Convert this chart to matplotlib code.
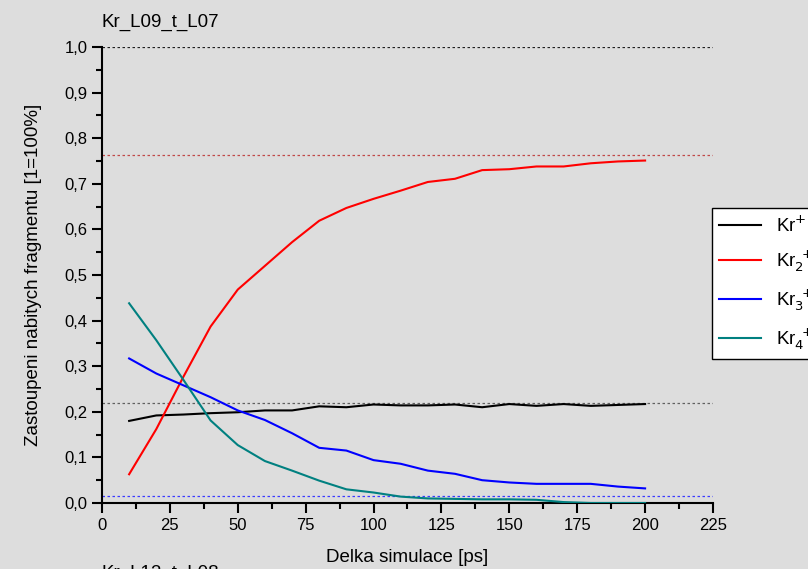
import matplotlib
matplotlib.use("Agg")
import matplotlib.pyplot as plt
from matplotlib.ticker import MultipleLocator, FuncFormatter

plt.rcParams['font.family'] = ['Liberation Sans', 'DejaVu Sans']

# simulation time [ps]
time_ps = [10, 20, 30, 40, 50, 60, 70, 80, 90, 100,
           110, 120, 130, 140, 150, 160, 170, 180, 190, 200]

kr1 = [0.180, 0.192, 0.194, 0.197, 0.199, 0.203, 0.203, 0.212, 0.210, 0.216,
       0.214, 0.214, 0.216, 0.210, 0.217, 0.213, 0.217, 0.213, 0.215, 0.217]
kr2 = [0.063, 0.162, 0.277, 0.387, 0.468, 0.520, 0.572, 0.619, 0.647, 0.667,
       0.685, 0.704, 0.711, 0.730, 0.732, 0.738, 0.738, 0.745, 0.749, 0.751]
kr3 = [0.317, 0.284, 0.258, 0.232, 0.203, 0.182, 0.153, 0.121, 0.115, 0.094,
       0.086, 0.071, 0.064, 0.050, 0.045, 0.042, 0.042, 0.042, 0.036, 0.032]
kr4 = [0.438, 0.357, 0.270, 0.181, 0.127, 0.092, 0.071, 0.049, 0.030, 0.023,
       0.014, 0.010, 0.009, 0.008, 0.008, 0.007, 0.002, 0.000, 0.000, 0.000]

series_labels = ['Kr$^{+}$', 'Kr$_{2}^{\\ +}$', 'Kr$_{3}^{\\ +}$', 'Kr$_{4}^{\\ +}$']
series_colors = ['black', '#ff0000', '#0000ff', '#008080']

# reference levels (dotted)
ref_levels = [1.0, 0.763, 0.219, 0.015]
ref_colors = ['#202020', '#c04848', '#606060', '#3a3aff']

bg = '#dddddd'
fig = plt.figure(figsize=(8.08, 5.69), dpi=100, facecolor=bg)
ax = fig.add_axes([0.1262, 0.116, 0.7562, 0.8014], facecolor=bg)

for lvl, c in zip(ref_levels, ref_colors):
    ax.axhline(lvl, color=c, linestyle=(0, (2, 2)), linewidth=0.9, zorder=1)

for data, lab, c in zip([kr1, kr2, kr3, kr4], series_labels, series_colors):
    ax.plot(time_ps, data, color=c, linewidth=1.5, label=lab, zorder=3)

ax.set_xlim(0, 225)
ax.set_ylim(0, 1.0)
ax.xaxis.set_major_locator(MultipleLocator(25))
ax.xaxis.set_minor_locator(MultipleLocator(12.5))
ax.yaxis.set_major_locator(MultipleLocator(0.1))
ax.yaxis.set_minor_locator(MultipleLocator(0.05))
ax.yaxis.set_major_formatter(FuncFormatter(lambda v, p: f"{v:.1f}".replace('.', ',')))

for s in ['top', 'right']:
    ax.spines[s].set_visible(False)
for s in ['left', 'bottom']:
    ax.spines[s].set_linewidth(1.5)
ax.tick_params(which='major', direction='out', length=7, width=1.5, labelsize=12)
ax.tick_params(which='minor', direction='out', length=4, width=1.5)

ax.set_xlabel('Delka simulace [ps]', fontsize=13.5, labelpad=12)
ax.set_ylabel('Zastoupeni nabitych fragmentu [1=100%]', fontsize=13.5, labelpad=16)

fig.text(0.1262, 0.945, 'Kr_L09_t_L07', fontsize=13.5, ha='left', va='bottom')
fig.text(0.1262, -0.022, 'Kr_L12_t_L08', fontsize=13.5, ha='left', va='bottom')

leg = ax.legend(loc='upper left', bbox_to_anchor=(0.998, 0.647), fontsize=13.5,
                frameon=True, fancybox=False, handlelength=2.2, borderaxespad=0,
                labelspacing=0.7)
leg.get_frame().set_edgecolor('black')
leg.get_frame().set_facecolor('white')
leg.get_frame().set_alpha(1)

fig.savefig('out.png', dpi=100, facecolor=bg)
